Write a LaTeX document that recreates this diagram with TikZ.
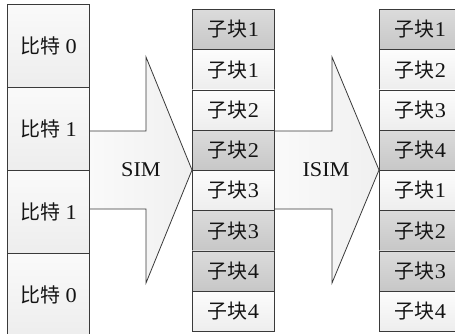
\documentclass[tikz,border=0pt]{standalone}
\usepackage{fontspec}
\setmainfont{Liberation Serif}[FakeStretch=1.06]
\newfontfamily\cjk{Noto Sans CJK SC}[Scale=0.95]
\usetikzlibrary{calc}
\definecolor{edge}{HTML}{3A3A3A}
\definecolor{ink}{HTML}{141414}
\tikzset{
  cellbase/.style={rectangle, draw=edge, line width=0.8pt, anchor=north west,
    inner sep=0pt, minimum width=82pt, text=ink, font=\fontsize{21}{21}\selectfont},
  bitcell/.style={cellbase, minimum height=83pt, top color=white!98!black, bottom color=white!93!black},
  lightcell/.style={cellbase, minimum height=40.25pt, top color=white!99!black, bottom color=white!93!black},
  darkcell/.style={cellbase, minimum height=40.25pt, top color=white!86!black, bottom color=white!78!black},
  blockarrow/.style={draw=edge, line width=0.8pt, left color=white!98!black, right color=white!94!black},
  arrowlabel/.style={text=ink, font=\fontsize{21}{21}\selectfont, inner sep=0pt}
}
\begin{document}
\begin{tikzpicture}[x=1pt,y=-1pt]
\useasboundingbox (0,0) rectangle (455,333);
\clip (0,0) rectangle (455,333);

% block arrows between the columns
\draw[blockarrow] (89,131) -- (146,131) -- (146,57) -- (192,170) -- (146,283) -- (146,209) -- (89,209) -- cycle;
\draw[blockarrow] (274,131) -- (332,131) -- (332,57) -- (379,170) -- (332,283) -- (332,209) -- (274,209) -- cycle;
\node[arrowlabel] (sim) at (141,170) {SIM};
\node[arrowlabel] (isim) at (326,170) {ISIM};

% bit column
\node[bitcell] (b1) at (7,4) {{\cjk 比特} 0};
\node[bitcell] (b2) at (7,87) {{\cjk 比特} 1};
\node[bitcell] (b3) at (7,170) {{\cjk 比特} 1};
\node[bitcell] (b4) at (7,253) {{\cjk 比特} 0};

% sub-blocks after spreading
\node[darkcell]  (m1) at (192,9)      {{\cjk 子块}1};
\node[lightcell] (m2) at (192,49.25)  {{\cjk 子块}1};
\node[lightcell] (m3) at (192,89.5)   {{\cjk 子块}2};
\node[darkcell]  (m4) at (192,129.75) {{\cjk 子块}2};
\node[lightcell] (m5) at (192,170)    {{\cjk 子块}3};
\node[darkcell]  (m6) at (192,210.25) {{\cjk 子块}3};
\node[darkcell]  (m7) at (192,250.5)  {{\cjk 子块}4};
\node[lightcell] (m8) at (192,290.75) {{\cjk 子块}4};

% sub-blocks after interleaving
\node[darkcell]  (r1) at (379,9)      {{\cjk 子块}1};
\node[lightcell] (r2) at (379,49.25)  {{\cjk 子块}2};
\node[lightcell] (r3) at (379,89.5)   {{\cjk 子块}3};
\node[darkcell]  (r4) at (379,129.75) {{\cjk 子块}4};
\node[lightcell] (r5) at (379,170)    {{\cjk 子块}1};
\node[darkcell]  (r6) at (379,210.25) {{\cjk 子块}2};
\node[darkcell]  (r7) at (379,250.5)  {{\cjk 子块}3};
\node[lightcell] (r8) at (379,290.75) {{\cjk 子块}4};
\end{tikzpicture}
\end{document}
